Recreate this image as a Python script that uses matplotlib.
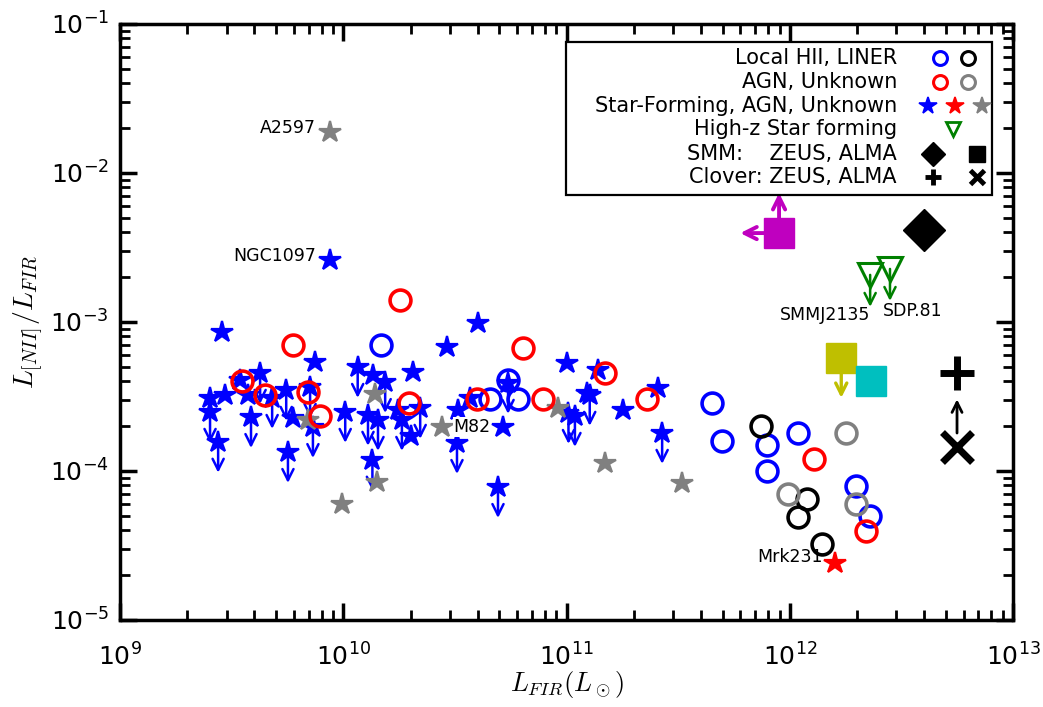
import matplotlib.pyplot as plt
from matplotlib.patches import Rectangle

# local galaxies (circles)
hii_x = [1.48e10, 5.47e10, 4.54e10, 6.07e10, 4.49e11, 4.98e11, 7.91e11, 7.91e11, 1.09e12, 1.98e12, 2.29e12]
hii_y = [7.0e-4, 4.1e-4, 3.04e-4, 3.04e-4, 2.86e-4, 1.59e-4, 1.49e-4, 1.0e-4, 1.8e-4, 7.9e-5, 5.0e-5]
liner_x = [7.43e11, 1.19e12, 1.09e12, 1.39e12]
liner_y = [2.0e-4, 6.5e-5, 4.9e-5, 3.24e-5]
agn_x = [3.52e9, 4.46e9, 5.96e9, 6.95e9, 7.87e9, 1.80e10, 1.97e10, 3.97e10, 6.38e10, 7.85e10,
         1.49e11, 2.30e11, 1.28e12, 2.20e12]
agn_y = [4.0e-4, 3.24e-4, 7.0e-4, 3.4e-4, 2.34e-4, 1.41e-3, 2.86e-4, 3.04e-4, 6.7e-4, 3.04e-4,
         4.55e-4, 3.04e-4, 1.21e-4, 3.95e-5]
unk_x = [1.79e12, 9.82e11, 1.98e12]
unk_y = [1.8e-4, 7.0e-5, 6.0e-5]

# star-forming (stars): detections and upper limits
sf_x = [8.7e9, 2.86e9, 2.53e9, 2.95e9, 3.45e9, 3.74e9, 5.96e9, 7.46e9, 1.36e10, 2.05e10, 2.0e10,
        1.76e10, 2.92e10, 4.02e10, 3.27e10, 3.70e10, 5.20e10, 1.00e11, 1.38e11, 1.79e11, 2.57e11, 1.24e11]
sf_y = [2.6e-3, 8.6e-4, 3.1e-4, 3.24e-4, 4.08e-4, 3.24e-4, 2.27e-4, 5.4e-4, 4.41e-4, 4.61e-4, 1.72e-4,
        2.56e-4, 6.8e-4, 9.8e-4, 2.56e-4, 3.09e-4, 1.97e-4, 5.3e-4, 4.76e-4, 2.56e-4, 3.6e-4, 3.33e-4]
sf_lim_x = [2.53e9, 2.75e9, 4.24e9, 3.86e9, 4.80e9, 5.55e9, 5.65e9, 7.10e9, 7.31e9, 1.16e10, 1.54e10,
            1.02e10, 1.29e10, 1.43e10, 1.35e10, 1.83e10, 2.21e10, 3.23e10, 4.93e10, 1.02e11, 1.09e11,
            1.27e11, 2.68e11, 5.47e10]
sf_lim_y = [2.49e-4, 1.57e-4, 4.55e-4, 2.30e-4, 3.09e-4, 3.50e-4, 1.34e-4, 3.66e-4, 1.97e-4, 4.99e-4,
            3.95e-4, 2.49e-4, 2.38e-4, 2.20e-4, 1.19e-4, 2.20e-4, 2.65e-4, 1.54e-4, 7.8e-5, 2.45e-4,
            2.34e-4, 3.24e-4, 1.80e-4, 3.90e-4]
unk_star_x = [8.7e9, 1.39e10, 6.95e9, 1.42e10, 9.86e9, 2.77e10, 9.2e10, 1.49e11, 3.29e11]
unk_star_y = [1.88e-2, 3.3e-4, 2.2e-4, 8.4e-5, 6.0e-5, 1.97e-4, 2.65e-4, 1.13e-4, 8.3e-5]
agn_star_x = [1.6e12]
agn_star_y = [2.42e-5]

# high-z sources
hiz_x = [2.29e12, 2.81e12]
hiz_y = [2.07e-3, 2.27e-3]
smm_zeus = (3.99e12, 4.14e-3)
smm_alma = (8.95e11, 3.95e-3)
yel_alma = (1.70e12, 5.73e-4)
cyan_alma = (2.31e12, 4.02e-4)
clover_zeus = (5.61e12, 4.55e-4)
clover_alma = (5.61e12, 1.45e-4)

fig = plt.figure(figsize=(10.43, 7.07), dpi=100)
ax = fig.add_axes([0.1151, 0.1231, 0.8562, 0.8430])
ax.set_xscale('log')
ax.set_yscale('log')

B, R, G = (0, 0, 1), (1, 0, 0), (0.5, 0.5, 0.5)


def down_arrows(xs, ys, color, frac=0.62, lw=1.8, ms=20):
    for x, y in zip(xs, ys):
        ax.annotate('', xy=(x, y * frac), xytext=(x, y),
                    arrowprops=dict(arrowstyle='->', color=color, lw=lw, shrinkA=0, shrinkB=0,
                                    mutation_scale=ms), zorder=2)


circ = dict(ls='none', marker='o', ms=15, mew=2.6, mfc='none', zorder=3)
star = dict(ls='none', marker='*', ms=16, mew=1.6, zorder=3)

down_arrows(sf_lim_x, sf_lim_y, B)
ax.plot(sf_x + sf_lim_x, sf_y + sf_lim_y, color=B, mec=B, **star)
ax.plot(unk_star_x, unk_star_y, color=G, mec=G, **star)
ax.plot(agn_star_x, agn_star_y, color=R, mec=R, **star)
ax.plot(hii_x, hii_y, mec=B, **circ)
ax.plot(liner_x, liner_y, mec='k', **circ)
ax.plot(agn_x, agn_y, mec=R, **circ)
ax.plot(unk_x, unk_y, mec=G, **circ)

# high-z
down_arrows(hiz_x, hiz_y, (0, 0.5, 0), frac=0.61, lw=1.8)
ax.plot(hiz_x, hiz_y, ls='none', marker='v', ms=17, mew=2.2, mfc='none', mec=(0, 0.5, 0), zorder=3)
ax.plot(*smm_zeus, marker='D', ms=21, color='k', zorder=3)
mag = (0.75, 0, 0.75)
ax.annotate('', xy=(smm_alma[0], smm_alma[1] * 1.86), xytext=smm_alma,
            arrowprops=dict(arrowstyle='->', color=mag, lw=2.8, shrinkA=0, shrinkB=0, mutation_scale=22), zorder=2)
ax.annotate('', xy=(smm_alma[0] * 0.67, smm_alma[1]), xytext=smm_alma,
            arrowprops=dict(arrowstyle='->', color=mag, lw=2.8, shrinkA=0, shrinkB=0, mutation_scale=22), zorder=2)
ax.plot(*smm_alma, marker='s', ms=21, color=mag, mec=mag, zorder=3)
yel = (0.75, 0.75, 0)
ax.annotate('', xy=(yel_alma[0], yel_alma[1] * 0.54), xytext=yel_alma,
            arrowprops=dict(arrowstyle='->', color=yel, lw=2.4, shrinkA=0, shrinkB=0, mutation_scale=20), zorder=2)
ax.plot(*yel_alma, marker='s', ms=21, color=yel, mec=yel, zorder=3)
cy = (0, 0.75, 0.75)
ax.plot(*cyan_alma, marker='s', ms=21, color=cy, mec=cy, zorder=3)
ax.annotate('', xy=clover_zeus, xytext=clover_alma,
            arrowprops=dict(arrowstyle='->', color='k', lw=2, shrinkA=10, shrinkB=19, mutation_scale=18), zorder=2)
ax.plot(*clover_zeus, marker='+', ms=24, mew=5, color='k', zorder=3)
ax.plot(*clover_alma, marker='x', ms=22, mew=5, color='k', zorder=3)

# names
lab = dict(textcoords='offset points', fontsize=12.5, va='center', zorder=4)
ax.annotate('A2597', xy=(unk_star_x[0], unk_star_y[0]), xytext=(-10, 3), ha='right', **lab)
ax.annotate('NGC1097', xy=(sf_x[0], sf_y[0]), xytext=(-10, 3), ha='right', **lab)
ax.annotate('M82', xy=(unk_star_x[5], unk_star_y[5]), xytext=(8, 0), ha='left',
            bbox=dict(fc='white', ec='none', pad=0.5), **lab)
ax.annotate('SMMJ2135', xy=(hiz_x[0], hiz_y[0]), xytext=(0, -29), ha='right', **lab)
ax.annotate('SDP.81', xy=(hiz_x[1], hiz_y[1]), xytext=(-5, -30), ha='left', **lab)
ax.annotate('Mrk231', xy=(agn_star_x[0], agn_star_y[0]), xytext=(-9, 4), ha='right', **lab)

# custom legend box
ax.add_patch(Rectangle((0.4994, 0.7131), 0.4771, 0.2567, transform=ax.transAxes,
                       fc='white', ec='k', lw=1.6, zorder=5))
leg_labels = ['Local HII, LINER', 'AGN, Unknown', 'Star-Forming, AGN, Unknown',
              'High-z Star forming', 'SMM:    ZEUS, ALMA', 'Clover: ZEUS, ALMA']
leg_rows = [0.943, 0.903, 0.862, 0.824, 0.782, 0.743]
leg_marks = [
    [(0.918, 'o', B, 'none', 10, 2.2), (0.950, 'o', 'k', 'none', 10, 2.2)],
    [(0.918, 'o', R, 'none', 10, 2.2), (0.950, 'o', G, 'none', 10, 2.2)],
    [(0.905, '*', B, B, 13, 1.2), (0.935, '*', R, R, 13, 1.2), (0.965, '*', G, G, 13, 1.2)],
    [(0.933, 'v', (0, 0.5, 0), 'none', 10, 2)],
    [(0.910, 'D', 'k', 'k', 12, 1), (0.960, 's', 'k', 'k', 12, 1)],
    [(0.910, '+', 'k', 'k', 11, 3.5), (0.960, 'x', 'k', 'k', 10, 3.5)],
]
for text, yy, marks in zip(leg_labels, leg_rows, leg_marks):
    ax.text(0.870, yy, text, transform=ax.transAxes, ha='right', va='center', fontsize=15, zorder=6)
    for xx, mk, ec, fc, size, mw in marks:
        ax.plot(xx, yy, marker=mk, ms=size, mec=ec, mfc=fc, mew=mw, transform=ax.transAxes,
                ls='none', zorder=6, clip_on=False)

ax.set_xlim(1e9, 1e13)
ax.set_ylim(1e-5, 1e-1)
ax.set_xlabel(r'$L_{FIR}(L_\odot)$', fontsize=19, math_fontfamily='cm')
ax.xaxis.set_label_coords(0.5, -0.082)
ax.set_ylabel(r'$L_{[NII]}/L_{FIR}$', fontsize=20, math_fontfamily='cm', labelpad=4)

ax.tick_params(which='both', direction='in', top=True, right=True)
ax.tick_params(which='major', length=12, width=2.5, labelsize=18)
ax.tick_params(axis='x', which='major', pad=17)
ax.tick_params(axis='y', which='major', pad=8)
ax.tick_params(which='minor', length=7, width=2)
for s in ax.spines.values():
    s.set_linewidth(2.5)

fig.savefig('out.png', dpi=100)
